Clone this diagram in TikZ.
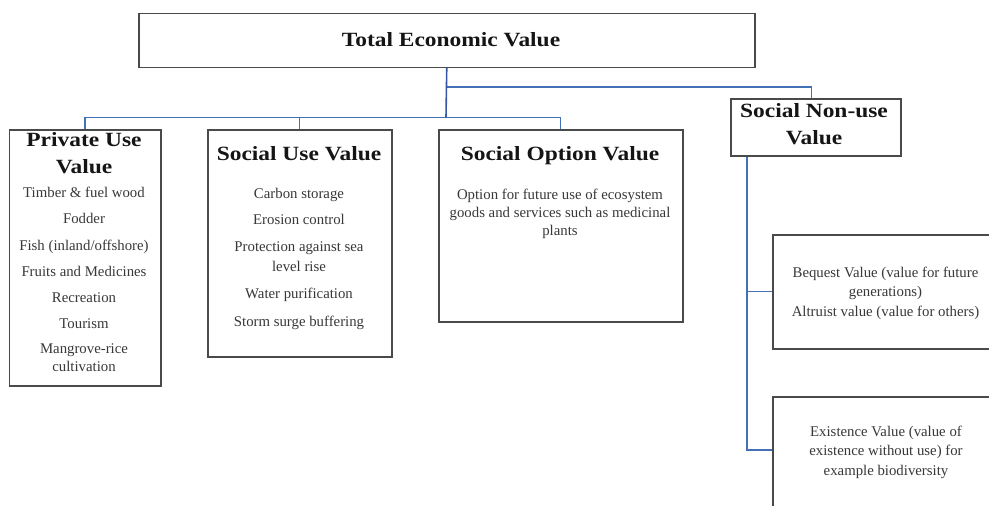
\documentclass[tikz,border=0pt]{standalone}
\usepackage{fontspec}
\setmainfont{Liberation Serif}
\newfontfamily\ttlfont[FakeStretch=1.16]{Liberation Serif}
\definecolor{lnk}{HTML}{4470B8}
\definecolor{lnkdark}{HTML}{3458A4}
\definecolor{bord}{HTML}{4A4A4A}
\definecolor{txt}{HTML}{383838}
\definecolor{ttc}{HTML}{151515}
\tikzset{
  box/.style={draw=bord, line width=1.5pt, fill=white, anchor=north west, inner sep=0pt},
  link/.style={draw=lnk, line width=1.2pt},
  mainlink/.style={draw=lnkdark, line width=1.6pt},
  ttl/.style={font=\ttlfont\fontsize{20.2}{26}\selectfont\bfseries, text=ttc, anchor=base, inner sep=0pt},
  itm/.style={font=\fontsize{14.8}{18}\selectfont, text=txt, anchor=base, inner sep=0pt},
}
\begin{document}
\begin{tikzpicture}[x=1pt,y=-1pt]
\useasboundingbox (0,0) rectangle (989,506);
\clip (0,0) rectangle (989,506);
% boxes
\node[box, minimum width=616pt, minimum height=54pt] (total) at (138,12.5) {};
\node[box, minimum width=151.5pt, minimum height=256pt] (private) at (8.5,129) {};
\node[box, minimum width=184pt, minimum height=227pt] (suse) at (207,129) {};
\node[box, minimum width=244pt, minimum height=192pt] (sopt) at (438,129) {};
\node[box, minimum width=170pt, minimum height=57pt] (nonuse) at (730,98) {};
\node[box, minimum width=227pt, minimum height=114pt] (bequest) at (772,234) {};
\node[box, minimum width=227pt, minimum height=130pt] (exist) at (772,396) {};
% junctions
\coordinate (j1) at (446,117.5);
\coordinate (j2) at (446,87);
% connectors
\draw[link] (j2) -| ([xshift=-4pt]nonuse.north);
\draw[link] (private.north) |- (j1) -| (sopt.north);
\draw[link] (suse.north) -- (suse.north |- j1);
\draw[mainlink] (total.south) -- (j1);
\draw[link] ([xshift=17pt]nonuse.south west) |- ([yshift=-54pt]exist.north west);
\draw[link] (bequest.west) -- ++(-25,0);
% texts
\node[ttl] (tev) at (451,46) {Total Economic Value};
\node[ttl] (pt1) at (84,146.5) {Private Use};
\node[ttl] (pt2) at (84,173) {Value};
\node[itm] (p1) at (84,197.3) {Timber \& fuel wood};
\node[itm] (p2) at (84,223.3) {Fodder};
\node[itm] (p3) at (84,250) {Fish (inland/offshore)};
\node[itm] (p4) at (84,276.5) {Fruits and Medicines};
\node[itm] (p5) at (84,302.7) {Recreation};
\node[itm] (p6) at (84,328) {Tourism};
\node[itm] (p7) at (84,353.3) {Mangrove-rice};
\node[itm] (p8) at (84,371) {cultivation};
\node[ttl] (st) at (299,160.7) {Social Use Value};
\node[itm] (s1) at (299,198.3) {Carbon storage};
\node[itm] (s2) at (299,224) {Erosion control};
\node[itm] (s3) at (299,251.7) {Protection against sea};
\node[itm] (s4) at (299,271.5) {level rise};
\node[itm] (s5) at (299,298.3) {Water purification};
\node[itm] (s6) at (299,326) {Storm surge buffering};
\node[ttl] (ot) at (560,160.7) {Social Option Value};
\node[itm] (o1) at (560,199) {Option for future use of ecosystem};
\node[itm] (o2) at (560,217.3) {goods and services such as medicinal};
\node[itm] (o3) at (560,235.5) {plants};
\node[ttl] (nt1) at (814,117.5) {Social Non-use};
\node[ttl] (nt2) at (814,144.5) {Value};
\node[itm] (b1) at (885.5,277) {Bequest Value (value for future};
\node[itm] (b2) at (885.5,296.7) {generations)};
\node[itm] (b3) at (885.5,316) {Altruist value (value for others)};
\node[itm] (e1) at (886,436) {Existence Value (value of};
\node[itm] (e2) at (886,455.5) {existence without use) for};
\node[itm] (e3) at (886,475) {example biodiversity};
\end{tikzpicture}
\end{document}
